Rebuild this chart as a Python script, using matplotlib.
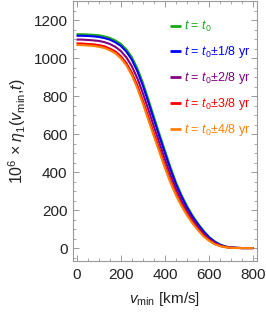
import matplotlib
matplotlib.use("Agg")
import matplotlib.pyplot as plt
from matplotlib.ticker import MultipleLocator

plt.rcParams["font.family"] = ["Liberation Sans", "DejaVu Sans"]
plt.rcParams["mathtext.fontset"] = "custom"
plt.rcParams["mathtext.rm"] = "Liberation Sans"
plt.rcParams["mathtext.it"] = "Liberation Sans:italic"

# v_min grid [km/s]
v_min = [0, 25, 50, 75, 100, 125, 150, 175, 200, 225, 250, 275, 300, 325, 350, 375, 400,
         425, 450, 475, 500, 525, 550, 575, 600, 625, 650, 675, 700, 725, 750, 775, 800]

# 10^6 x eta_1, one list per time
eta_t0 = [1125, 1125, 1124, 1122, 1120, 1114, 1106, 1093, 1075, 1046, 1005, 945, 870, 782, 690, 600, 512,
          425, 345, 278, 220, 170, 128, 90, 58, 35, 18, 8, 3, 1, 0, 0, 0]
eta_1 = [1117, 1117, 1116, 1114, 1111, 1105, 1097, 1083, 1064, 1034, 991, 930, 854, 766, 675, 586, 499,
         413, 335, 270, 213, 164, 123, 86, 55, 33, 17, 7, 3, 1, 0, 0, 0]
eta_2 = [1097, 1097, 1095, 1093, 1090, 1084, 1074, 1059, 1037, 1004, 957, 893, 815, 728, 639, 552, 466,
         384, 311, 249, 196, 150, 111, 76, 48, 28, 14, 6, 2, 1, 0, 0, 0]
eta_3 = [1077, 1076, 1074, 1072, 1068, 1062, 1050, 1035, 1010, 974, 923, 856, 776, 689, 602, 518, 433,
         355, 286, 228, 178, 135, 98, 65, 41, 22, 11, 5, 1, 1, 0, 0, 0]
eta_4 = [1069, 1068, 1066, 1064, 1059, 1053, 1041, 1025, 999, 962, 909, 841, 760, 673, 587, 504, 420,
         343, 276, 220, 171, 129, 93, 61, 38, 20, 10, 4, 1, 0, 0, 0, 0]

series = [eta_t0, eta_1, eta_2, eta_3, eta_4]
labels = [r"$t$ = $t_0$",
          r"$t$ = $t_0$$\pm$1/8 yr",
          r"$t$ = $t_0$$\pm$2/8 yr",
          r"$t$ = $t_0$$\pm$3/8 yr",
          r"$t$ = $t_0$$\pm$4/8 yr"]
colors = ["#1aa81a", "#0000ff", "#800080", "#ff0000", "#ff8000"]

FRAME = "#9a9a9a"

fig = plt.figure(figsize=(2.66, 3.12), dpi=100)
ax = fig.add_axes([73 / 266, 1 - 261 / 312, (257 - 73) / 266, 260 / 312])

for y, c, lab in zip(series, colors, labels):
    ax.plot(v_min, y, color=c, lw=1.5, label=lab, solid_capstyle="butt")

ax.set_xlim(-16, 816)
ax.set_ylim(-68, 1300)
ax.xaxis.set_major_locator(MultipleLocator(200))
ax.xaxis.set_minor_locator(MultipleLocator(50))
ax.yaxis.set_major_locator(MultipleLocator(200))
ax.yaxis.set_minor_locator(MultipleLocator(50))
ax.tick_params(which="both", direction="in", top=True, right=True, color=FRAME,
               labelsize=11, labelcolor="#222222")
ax.tick_params(which="major", length=4, width=0.7)
ax.tick_params(which="minor", length=2, width=0.6)
ax.tick_params(axis="x", pad=5)
ax.tick_params(axis="y", pad=4)
for s in ax.spines.values():
    s.set_color(FRAME)
    s.set_linewidth(0.8)

ax.set_xlabel(r"$v_{\rm min}$ [km/s]", fontsize=11, color="#222222", labelpad=6)
ax.set_ylabel(r"10$^6$ $\times$ $\eta_1$($v_{\rm min}$,$t$)", fontsize=11.5, color="#222222", labelpad=4)

leg = ax.legend(loc="upper left", bbox_to_anchor=(0.5, 0.95), frameon=False, fontsize=9,
                handlelength=0.85, handletextpad=0.3, labelspacing=0.8, borderaxespad=0)
for txt, c in zip(leg.get_texts(), colors):
    txt.set_color(c)
for h in leg.get_lines():
    h.set_linewidth(2)

fig.savefig("out.png", dpi=100)
